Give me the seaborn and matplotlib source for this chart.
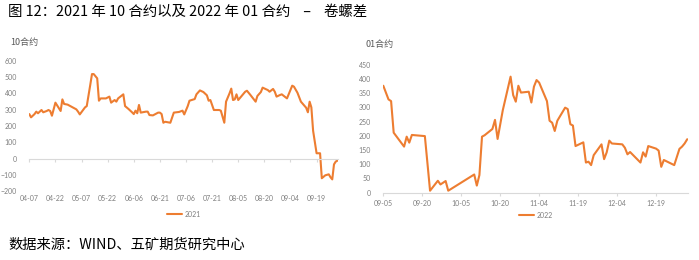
import numpy as np
import pandas as pd
import matplotlib
matplotlib.use("Agg")
import matplotlib.pyplot as plt
import matplotlib.dates as mdates
import seaborn as sns

sns.set_theme(style="white")
plt.rcParams['font.family'] = ['Noto Sans CJK SC', 'DejaVu Sans']

# ---- data ----
title_text = "图 12：2021 年 10 合约以及 2022 年 01 合约    –    卷螺差"
source_text = "数据来源：WIND、五矿期货研究中心"

start_2021 = "2021-04-07"
days_2021 = [0, 1, 3, 4, 5, 7, 8, 10, 11, 12, 13, 15, 18, 19, 20, 22, 27, 28, 29, 32,
             33, 35, 36, 37, 39, 40, 41, 44, 46, 47, 49, 50, 51, 54, 55, 57, 59, 60, 61, 62,
             63, 64, 67, 68, 69, 71, 74, 75, 76, 77, 78, 81, 83, 86, 88, 89, 91, 92, 95, 96,
             98, 100, 102, 103, 104, 106, 109, 110, 112, 113, 115, 116, 117, 118, 119, 120, 124, 125, 127, 130,
             131, 133, 134, 137, 138, 140, 141, 142, 144, 145, 148, 151, 152, 154, 156, 159, 160, 161, 162, 163,
             165, 167, 168, 170, 172, 173, 174, 175, 176, 177]
vals_2021 = [273, 253, 273, 288, 278, 298, 284, 292, 298, 292, 263, 343, 292, 363, 335, 331, 302, 288, 271, 314,
             322, 451, 518, 518, 492, 355, 369, 369, 380, 343, 359, 349, 369, 394, 322, 304, 284, 273, 294, 278,
             329, 282, 288, 288, 267, 265, 282, 282, 273, 220, 226, 220, 282, 286, 294, 271, 322, 355, 365, 394,
             418, 408, 388, 355, 359, 298, 298, 294, 220, 349, 400, 429, 359, 363, 394, 359, 410, 416, 390, 349,
             384, 408, 435, 420, 410, 427, 410, 380, 390, 394, 369, 447, 441, 404, 349, 312, 284, 349, 314, 171,
             33, 33, -120, -102, -96, -114, -127, -35, -18, -12]

start_2022 = "2021-09-05"
days_2022 = [0, 2, 3, 4, 8, 9, 10, 11, 16, 18, 21, 22, 24, 25, 35, 36, 37, 38, 39, 42,
             43, 44, 46, 49, 50, 51, 52, 53, 56, 57, 58, 59, 60, 63, 64, 65, 66, 67, 70, 71,
             72, 73, 74, 77, 78, 79, 80, 81, 84, 85, 86, 87, 88, 92, 93, 94, 95, 99, 100, 101,
             102, 105, 106, 107, 108, 112, 114, 115, 116, 117]
vals_2022 = [376, 328, 322, 211, 162, 197, 176, 203, 199, 7, 42, 29, 41, 7, 64, 25, 62, 197, 202, 224,
             256, 189, 290, 408, 343, 320, 376, 352, 355, 317, 373, 396, 387, 322, 253, 246, 217, 253, 299, 294,
             241, 236, 164, 177, 106, 109, 97, 132, 170, 118, 142, 183, 173, 170, 158, 135, 143, 106, 142, 127,
             164, 155, 148, 91, 115, 97, 154, 162, 173, 188]

label_left = "10合约"
label_right = "01合约"
series_left = "2021"
series_right = "2022"
yticks_left = [-200, -100, 0, 100, 200, 300, 400, 500, 600]
yticks_right = [0, 50, 100, 150, 200, 250, 300, 350, 400, 450]

# ---- frames ----
df1 = pd.DataFrame({"date": pd.Timestamp(start_2021) + pd.to_timedelta(days_2021, unit="D"),
                    "value": vals_2021})
df2 = pd.DataFrame({"date": pd.Timestamp(start_2022) + pd.to_timedelta(days_2022, unit="D"),
                    "value": vals_2022})

W, H = 699, 260
fig = plt.figure(figsize=(W / 100, H / 100), dpi=100)
orange = "#ED7D31"
gray_txt = "#7F7F7F"
axis_gray = "#D9D9D9"

def px_rect(l, r, t, b):
    return [l / W, 1 - b / H, (r - l) / W, (b - t) / H]

ax1 = fig.add_axes(px_rect(29.3, 338, 60.7, 191.3))
ax2 = fig.add_axes(px_rect(383.3, 688, 64.7, 192.7))

def style(ax, df, label, yticks, start, ndays, pad, leg_y):
    sns.lineplot(data=df, x="date", y="value", ax=ax, color=orange, linewidth=1.5, label=label)
    ax.set_ylim(yticks[0], yticks[-1])
    ax.set_yticks(yticks)
    s = pd.Timestamp(start)
    ax.set_xlim(s, df["date"].iloc[-1] + pd.Timedelta(days=0.3))
    xt = pd.date_range(s, periods=ndays, freq="15D")
    ax.set_xticks(xt)
    ax.xaxis.set_major_formatter(mdates.DateFormatter("%m-%d"))
    for sp in ["top", "right", "left"]:
        ax.spines[sp].set_visible(False)
    ax.spines["bottom"].set_position(("data", 0))
    ax.spines["bottom"].set_color(axis_gray)
    ax.spines["bottom"].set_linewidth(0.8)
    ax.tick_params(axis="x", bottom=True, length=2.5, width=0.8, color=axis_gray,
                   labelsize=5, labelcolor=gray_txt, pad=pad)
    ax.tick_params(axis="y", left=False, labelsize=5, labelcolor=gray_txt, pad=3)
    ax.set_xlabel("")
    ax.set_ylabel("")
    ax.grid(False)
    for t in ax.get_xticklabels() + ax.get_yticklabels():
        t.set_family(["Lato", "DejaVu Sans"])
    leg = ax.legend(loc="upper center", bbox_to_anchor=(0.5, leg_y), frameon=False,
                    fontsize=5, handlelength=2.2, handletextpad=0.3, labelcolor=gray_txt)
    for t in leg.get_texts():
        t.set_family(["Lato", "DejaVu Sans"])

style(ax1, df1, series_left, yticks_left, start_2021, 12, 24, -0.10)
style(ax2, df2, series_right, yticks_right, start_2022, 8, 3, -0.10)

fig.text(8 / W, 1 - 12 / H, title_text, fontsize=10.4, color="#000000", va="center", ha="left")
fig.text(10 / W, 1 - 42 / H, label_left, fontsize=6.5, color="#595959", va="center", ha="left")
fig.text(366 / W, 1 - 45 / H, label_right, fontsize=6.5, color="#595959", va="center", ha="left")
fig.text(8 / W, 1 - 245 / H, source_text, fontsize=10.3, color="#000000", va="center", ha="left")

fig.savefig("out.png", dpi=100, facecolor="white")
